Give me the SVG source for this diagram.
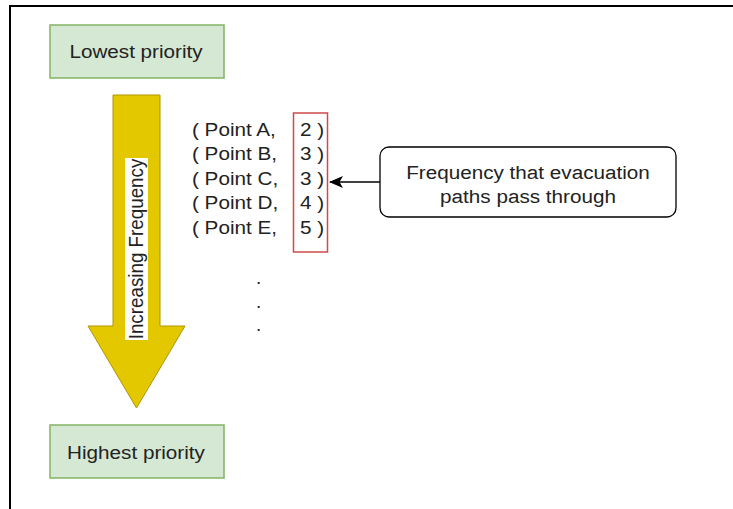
<svg xmlns="http://www.w3.org/2000/svg" width="733" height="509" viewBox="0 0 733 509">
  <style>
    .label { font-family: "Liberation Sans", Arial, Helvetica, sans-serif; font-size: 18.8px; fill: #222; }
    .mid { text-anchor: middle; }
    .prio { fill: #d5e8d4; stroke: #82b366; stroke-width: 1.5; }
    .frame { stroke: #000; stroke-width: 2; fill: none; }
  </style>
  <defs>
    <marker id="arrowHead" viewBox="0 0 14 12" refX="13" refY="6" markerWidth="14" markerHeight="12" markerUnits="userSpaceOnUse" orient="auto">
      <path d="M14,6 L0,0 L3.5,6 L0,12 Z" fill="#000"/>
    </marker>
  </defs>

  <rect width="733" height="509" fill="#fff"/>
  <!-- page frame: top and left edges -->
  <path class="frame" d="M10,509 V6 H733"/>

  <g id="lowest-priority">
    <rect class="prio" x="50" y="25" width="174" height="53"/>
    <g transform="translate(136,58.3) scale(1.1,1)">
      <text class="label mid" x="0" y="0">Lowest priority</text>
    </g>
  </g>

  <g id="frequency-arrow">
    <path d="M113,95 H160 V326 H185 L136.5,408 L88,326 H113 Z" fill="#e3c800" stroke="#b09500" stroke-width="1"/>
    <rect x="125" y="158" width="23" height="182" fill="#fff"/>
    <g transform="translate(143,249) scale(1.1,1) rotate(-90)">
      <text class="label mid" x="0" y="0">Increasing Frequency</text>
    </g>
  </g>

  <g id="point-list">
    <g transform="translate(192,136) scale(1.1,1)"><text class="label" x="0" y="0">( Point A,</text></g>
    <g transform="translate(192,160.4) scale(1.1,1)"><text class="label" x="0" y="0">( Point B,</text></g>
    <g transform="translate(192,184.8) scale(1.1,1)"><text class="label" x="0" y="0">( Point C,</text></g>
    <g transform="translate(192,209.2) scale(1.1,1)"><text class="label" x="0" y="0">( Point D,</text></g>
    <g transform="translate(192,233.6) scale(1.1,1)"><text class="label" x="0" y="0">( Point E,</text></g>
    <g transform="translate(300,136) scale(1.1,1)"><text class="label" x="0" y="0">2 )</text></g>
    <g transform="translate(300,160.4) scale(1.1,1)"><text class="label" x="0" y="0">3 )</text></g>
    <g transform="translate(300,184.8) scale(1.1,1)"><text class="label" x="0" y="0">3 )</text></g>
    <g transform="translate(300,209.2) scale(1.1,1)"><text class="label" x="0" y="0">4 )</text></g>
    <g transform="translate(300,233.6) scale(1.1,1)"><text class="label" x="0" y="0">5 )</text></g>
    <text class="label" x="256" y="284">.</text>
    <text class="label" x="256" y="307.5">.</text>
    <text class="label" x="256" y="331">.</text>
  </g>

  <g id="frequency-column">
    <rect x="293.5" y="113" width="34" height="139" fill="none" stroke="#d04a4a" stroke-width="1.5"/>
  </g>

  <g id="frequency-note">
    <rect x="380" y="147" width="296" height="70" rx="9" ry="9" fill="#fff" stroke="#000" stroke-width="1.3"/>
    <g transform="translate(528,179.3) scale(1.1,1)">
      <text class="label mid" x="0" y="0">Frequency that evacuation</text>
    </g>
    <g transform="translate(528,203) scale(1.1,1)">
      <text class="label mid" x="0" y="0">paths pass through</text>
    </g>
  </g>

  <g id="connectors">
    <path d="M380,182 H330" fill="none" stroke="#000" stroke-width="1.3" marker-end="url(#arrowHead)"/>
  </g>

  <g id="highest-priority">
    <rect class="prio" x="50" y="425" width="174" height="53"/>
    <g transform="translate(136,458.5) scale(1.1,1)">
      <text class="label mid" x="0" y="0">Highest priority</text>
    </g>
  </g>
</svg>
